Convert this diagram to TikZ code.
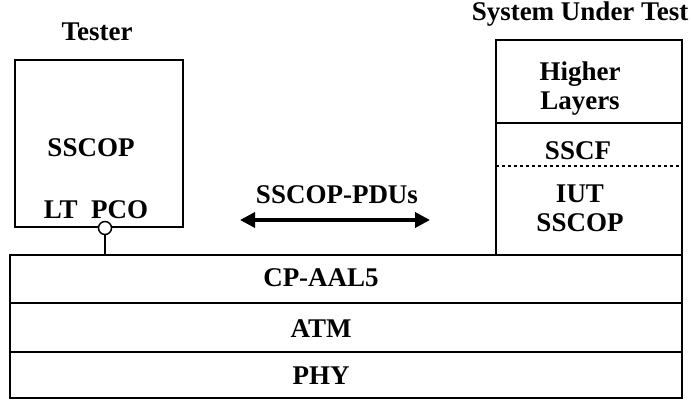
\documentclass[tikz,border=0pt]{standalone}
\usepackage{fontspec}
\setmainfont{Liberation Serif}
\usetikzlibrary{arrows.meta}

\begin{document}
\begin{tikzpicture}[x=1pt,y=-1pt,
  box/.style={draw,line width=2pt,inner sep=0pt,outer sep=0pt},
  lbl/.style={font=\fontsize{27}{29}\selectfont\bfseries,inner sep=0pt,align=center},
  pdu/.style={line width=3.5pt,{Triangle[length=15pt,width=15pt]}-{Triangle[length=15pt,width=15pt]}}]
%\draw[help lines] (0,0) grid[step=50] (691,400);
\useasboundingbox (0,0) rectangle (691,400);

% tester side
\node[box,minimum width=168pt,minimum height=167pt] (tester) at (99,143.5) {};
\node[lbl] (testerlbl) at (97,32) {Tester};
\node[lbl] (sscop) at (91,148) {SSCOP};
\node[lbl] (ltpco) at (96,210) {LT\ \ PCO};

% system under test
\node[box,minimum width=186pt,minimum height=83pt] (higher) at (589,81.5) {};
\node[box,minimum width=186pt,minimum height=132pt] (iut) at (589,189) {};
\node[lbl] (sutlbl) at (580,14) {System Under Test};
\node[lbl] (higherlbl) at (580,89) {Higher\\Layers};
\node[lbl] (sscf) at (578,151) {SSCF};
\node[lbl] (iutlbl) at (580,208) {IUT\\SSCOP};
\draw[line width=1.5pt,dash pattern=on 3pt off 3pt]
  ([yshift=-43pt]iut.north west) -- ([yshift=-43pt]iut.north east);

% common layers
\node[box,minimum width=672pt,minimum height=48pt] (cp) at (346,279) {};
\node[box,minimum width=672pt,minimum height=49pt] (atm) at (346,327.5) {};
\node[box,minimum width=672pt,minimum height=46pt] (phy) at (346,375) {};
\node[lbl] (cplbl) at (321,278) {CP-AAL5};
\node[lbl] (atmlbl) at (321,329) {ATM};
\node[lbl] (phylbl) at (321,376) {PHY};

% point of control and observation
\node[draw,circle,line width=1.5pt,fill=white,minimum size=13pt,inner sep=0pt] (pco) at (105,228) {};
\draw[line width=2pt] (pco.south) -- (pco.south |- cp.north);

% exchanged PDUs
\node[lbl] (pdulbl) at (337,195) {SSCOP-PDUs};
\coordinate (pduL) at (240,220);
\coordinate (pduR) at (430,220);
\draw[pdu] (pduL) -- (pduR);
\end{tikzpicture}
\end{document}
